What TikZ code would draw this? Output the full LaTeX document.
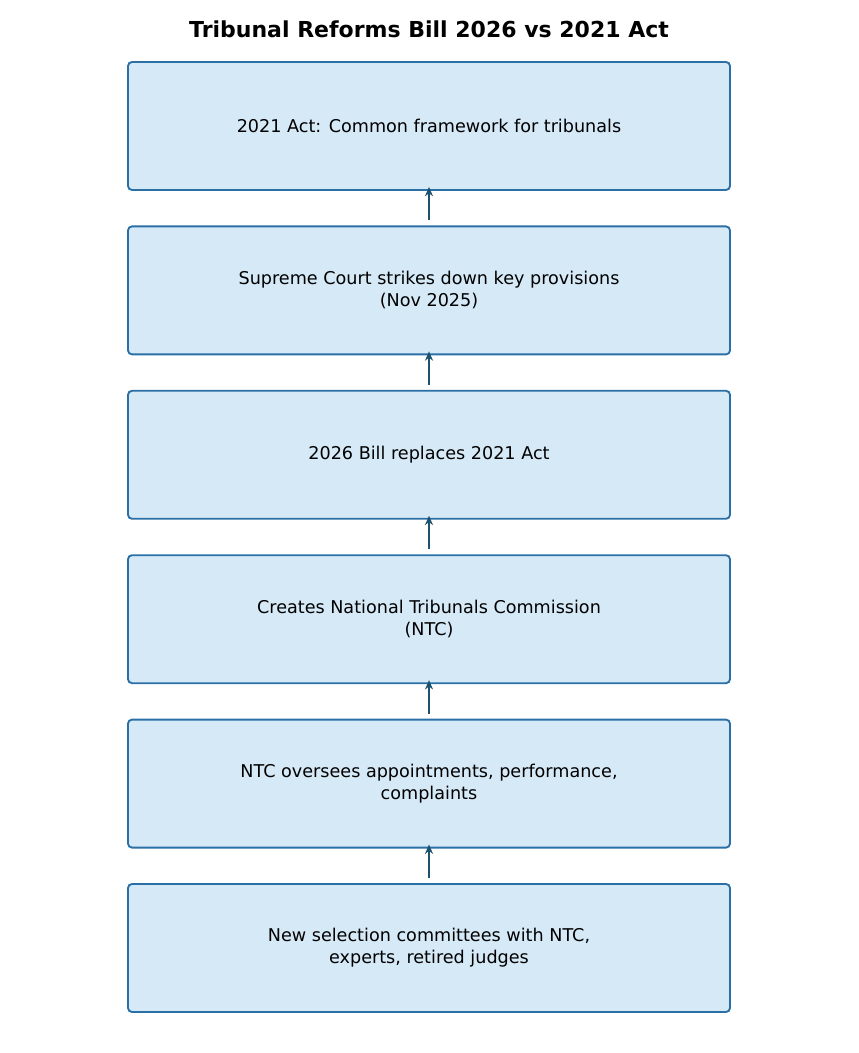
\documentclass[tikz,border=0pt]{standalone}
\usepackage{fontspec}
\setmainfont{DejaVu Sans}
\usetikzlibrary{positioning,arrows.meta}
\definecolor{boxfill}{HTML}{D6E9F7}
\definecolor{boxline}{HTML}{2A6FA5}
\definecolor{arrowc}{HTML}{1D5170}

\begin{document}
\begin{tikzpicture}[x=0.75pt,y=-0.75pt,
    stage/.style={draw=boxline, fill=boxfill, line width=1.4pt, rounded corners=3pt,
      minimum width=451.5pt, minimum height=96pt, align=center, font=\fontsize{13.2}{16.5}\selectfont},
    link/.style={arrowc, line width=2pt, -{Stealth[length=7pt,width=6pt]}, shorten <=3.75pt, shorten >=-3pt},
    node distance=25.9pt]
            \useasboundingbox (0,0) rectangle (858,1053);
            \node[font=\bfseries\fontsize{16.5}{19}\selectfont] (title) at (429,29) {Tribunal Reforms Bill 2026 vs 2021 Act};

            \node[stage] (act) at (429,126) {2021 Act: Common framework for tribunals};
            \node[stage, below=of act] (court) {Supreme Court strikes down key provisions\\(Nov 2025)};
            \node[stage, below=of court] (bill) {2026 Bill replaces 2021 Act};
            \node[stage, below=of bill] (ntc) {Creates National Tribunals Commission\\(NTC)};
            \node[stage, below=of ntc] (oversee) {NTC oversees appointments, performance,\\complaints};
            \node[stage, below=of oversee] (select) {New selection committees with NTC,\\experts, retired judges};

            \draw[link] (court.north) -- (act.south);
            \draw[link] (bill.north) -- (court.south);
            \draw[link] (ntc.north) -- (bill.south);
            \draw[link] (oversee.north) -- (ntc.south);
            \draw[link] (select.north) -- (oversee.south);
        \end{tikzpicture}
\end{document}
